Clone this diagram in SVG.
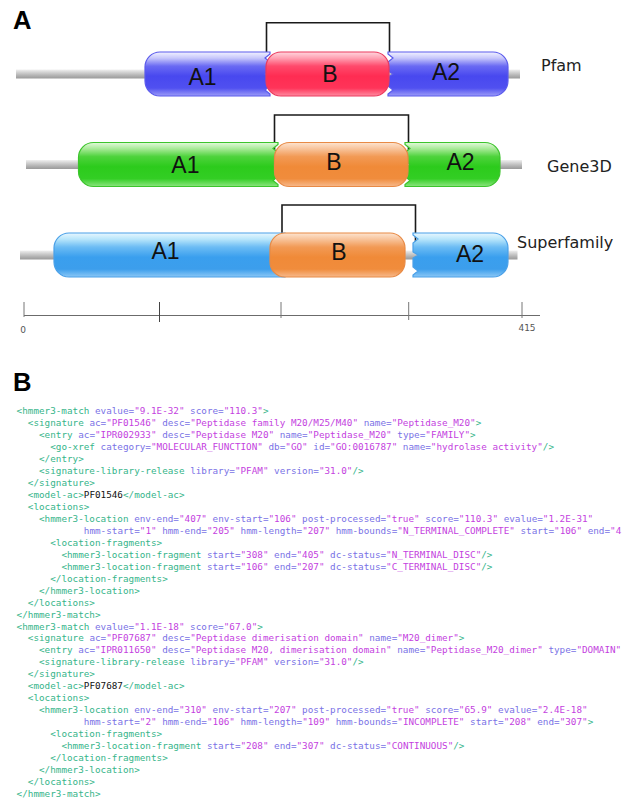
<svg xmlns="http://www.w3.org/2000/svg" width="622" height="799" viewBox="0 0 622 799">
<defs>
<linearGradient id="gBlue" x1="0" y1="0" x2="0" y2="1">
<stop offset="0" stop-color="#f2f2ff"/><stop offset="0.14" stop-color="#c6c6fb"/><stop offset="0.32" stop-color="#6a6af3"/><stop offset="0.55" stop-color="#4848ef"/><stop offset="0.82" stop-color="#5050f0"/><stop offset="1" stop-color="#9c9cf8"/>
</linearGradient>
<linearGradient id="gRed" x1="0" y1="0" x2="0" y2="1">
<stop offset="0" stop-color="#ffd6de"/><stop offset="0.14" stop-color="#ffa0b2"/><stop offset="0.32" stop-color="#ff4a6c"/><stop offset="0.55" stop-color="#ff2c52"/><stop offset="0.82" stop-color="#ff3459"/><stop offset="1" stop-color="#ff8aa0"/>
</linearGradient>
<linearGradient id="gGreen" x1="0" y1="0" x2="0" y2="1">
<stop offset="0" stop-color="#e4f9dc"/><stop offset="0.14" stop-color="#a8ea98"/><stop offset="0.32" stop-color="#4ed33c"/><stop offset="0.55" stop-color="#2ccb1c"/><stop offset="0.82" stop-color="#33ce24"/><stop offset="1" stop-color="#8ce47f"/>
</linearGradient>
<linearGradient id="gOrange" x1="0" y1="0" x2="0" y2="1">
<stop offset="0" stop-color="#fde4d0"/><stop offset="0.14" stop-color="#f8c49c"/><stop offset="0.32" stop-color="#f29a55"/><stop offset="0.55" stop-color="#f08a38"/><stop offset="0.82" stop-color="#f08c3c"/><stop offset="1" stop-color="#f7b98c"/>
</linearGradient>
<linearGradient id="gSky" x1="0" y1="0" x2="0" y2="1">
<stop offset="0" stop-color="#e8f7ff"/><stop offset="0.14" stop-color="#b8e6fb"/><stop offset="0.32" stop-color="#6cbcf4"/><stop offset="0.55" stop-color="#3a9fee"/><stop offset="0.82" stop-color="#3c9eec"/><stop offset="1" stop-color="#8cc8f6"/>
</linearGradient>
<linearGradient id="gGray" x1="0" y1="0" x2="0" y2="1">
<stop offset="0" stop-color="#f0f0f0"/><stop offset="0.35" stop-color="#cfcfcf"/><stop offset="0.7" stop-color="#b0b0b0"/><stop offset="1" stop-color="#9a9a9a"/>
</linearGradient>
</defs>
<style>
.panel{font-family:"Liberation Sans",Arial,sans-serif;font-weight:bold;font-size:25.6px;fill:#000}
.dl{font-family:"Liberation Sans",Arial,sans-serif;font-size:23px;fill:#111;text-anchor:middle}
.tl{font-family:"DejaVu Sans",sans-serif;font-size:16px;fill:#222}
.ax{font-family:"DejaVu Sans",sans-serif;font-size:9px;fill:#555}
.bar{fill:url(#gGray)}
.blue{fill:url(#gBlue);stroke:#5a5aec;stroke-width:1.2}
.red{fill:url(#gRed);stroke:#ec3a5e;stroke-width:1.2}
.green{fill:url(#gGreen);stroke:#3cc42c;stroke-width:1.2}
.orange{fill:url(#gOrange);stroke:#e88a45;stroke-width:1.2}
.sky{fill:url(#gSky);stroke:#4aa0e8;stroke-width:1.2}
.br{fill:none;stroke:#1a1a1a;stroke-width:1.6}
.code{font-family:"DejaVu Sans Mono",monospace;font-size:9.3px}
.t{fill:#36b58a}.a{fill:#7a72e6}.v{fill:#c43fe0}.k{fill:#111}
</style>

<text class="panel" x="13" y="29">A</text>
<text class="panel" x="13" y="391">B</text>

<g id="connectors">
<path class="br" d="M266.5,55 V22.7 H389.5 V55"/>
<path class="br" d="M274.5,152 V115 H408.5 V152"/>
<path class="br" d="M282,234 V205 H415.5 V245"/>
</g>

<g id="pfam" transform="translate(0,52)">
<rect class="bar" x="16" y="17.5" width="504" height="9"/>
<g id="pfam-A1"><path class="blue" d="M160,0 H270 V2 L265,6 L270,10 V19 L265,22 L270,25 V34 L265,38 L270,42 V44 H160 A15 15 0 0 1 145,29 V15 A15 15 0 0 1 160,0 Z"/><text class="dl" x="202.5" y="33.2">A1</text></g>
<g id="pfam-A2"><path class="blue" d="M388,0 H493 A15 15 0 0 1 508,15 V29 A15 15 0 0 1 493,44 H388 V42 L393,38 L388,34 V25 L393,22 L388,19 V10 L393,6 L388,2 Z"/><text class="dl" x="446" y="27.6">A2</text></g>
<g id="pfam-B"><rect class="red" x="266" y="0" width="123" height="44" rx="15"/><text class="dl" x="330" y="30">B</text></g>
<text class="tl" x="541" y="19">Pfam</text>
</g>

<g id="gene3d" transform="translate(0,142.5)">
<rect class="bar" x="26" y="17.5" width="496" height="9"/>
<g id="gene3d-A1"><path class="green" d="M93.5,0 H278 V2 L273,6 L278,10 V19 L273,22 L278,25 V34 L273,38 L278,42 V44 H93.5 A15 15 0 0 1 78.5,29 V15 A15 15 0 0 1 93.5,0 Z"/><text class="dl" x="185.4" y="30.5">A1</text></g>
<g id="gene3d-A2"><path class="green" d="M405,0 H485 A15 15 0 0 1 500,15 V29 A15 15 0 0 1 485,44 H405 V42 L410,38 L405,34 V25 L410,22 L405,19 V10 L410,6 L405,2 Z"/><text class="dl" x="460.5" y="27.2">A2</text></g>
<g id="gene3d-B"><rect class="orange" x="274.5" y="0" width="133.5" height="44" rx="15"/><text class="dl" x="334" y="27.2">B</text></g>
<text class="tl" x="547" y="29.2">Gene3D</text>
</g>

<g id="superfamily" transform="translate(0,233)">
<rect class="bar" x="20" y="17.5" width="497.5" height="9"/>
<g id="superfamily-A1"><path class="sky" d="M69,0 H285 V44 H69 A15 15 0 0 1 54,29 V15 A15 15 0 0 1 69,0 Z"/><text class="dl" x="165.5" y="26">A1</text></g>
<g id="superfamily-A2"><path class="sky" d="M413,0 H493 A15 15 0 0 1 508,15 V29 A15 15 0 0 1 493,44 H413 V42 L418,38 L413,34 V25 L418,22 L413,19 V10 L418,6 L413,2 Z"/><text class="dl" x="470" y="29">A2</text></g>
<g id="superfamily-B"><rect class="orange" x="270" y="0" width="135" height="44" rx="15"/><text class="dl" x="339" y="26.6">B</text></g>
<text class="tl" x="517" y="15.3">Superfamily</text>
</g>

<g id="axis">
<line x1="24" y1="315.5" x2="540" y2="315.5" stroke="#5a5a5a" stroke-width="0.9"/>
<g stroke="#777" stroke-width="1">
<line x1="24" y1="302" x2="24" y2="317"/>
<line x1="159.5" y1="302" x2="159.5" y2="322" stroke="#444"/>
<line x1="281" y1="302" x2="281" y2="318"/>
<line x1="408.7" y1="302" x2="408.7" y2="320"/>
<line x1="522" y1="302" x2="522" y2="318"/>
</g>
<text class="ax" x="23" y="332.5" text-anchor="middle">0</text>
<text class="ax" x="527" y="330.5" text-anchor="middle">415</text>
</g>

<g id="xml" class="code" xml:space="preserve">
<text x="16.6" y="414"><tspan class="t">&lt;hmmer3-match</tspan><tspan class="a"> evalue=</tspan><tspan class="v">"9.1E-32"</tspan><tspan class="a"> score=</tspan><tspan class="v">"110.3"</tspan><tspan class="t">&gt;</tspan></text>
<text x="27.8" y="426"><tspan class="t">&lt;signature</tspan><tspan class="a"> ac=</tspan><tspan class="v">"PF01546"</tspan><tspan class="a"> desc=</tspan><tspan class="v">"Peptidase family M20/M25/M40"</tspan><tspan class="a"> name=</tspan><tspan class="v">"Peptidase_M20"</tspan><tspan class="t">&gt;</tspan></text>
<text x="39" y="437.9"><tspan class="t">&lt;entry</tspan><tspan class="a"> ac=</tspan><tspan class="v">"IPR002933"</tspan><tspan class="a"> desc=</tspan><tspan class="v">"Peptidase M20"</tspan><tspan class="a"> name=</tspan><tspan class="v">"Peptidase_M20"</tspan><tspan class="a"> type=</tspan><tspan class="v">"FAMILY"</tspan><tspan class="t">&gt;</tspan></text>
<text x="50.2" y="449.9"><tspan class="t">&lt;go-xref</tspan><tspan class="a"> category=</tspan><tspan class="v">"MOLECULAR_FUNCTION"</tspan><tspan class="a"> db=</tspan><tspan class="v">"GO"</tspan><tspan class="a"> id=</tspan><tspan class="v">"GO:0016787"</tspan><tspan class="a"> name=</tspan><tspan class="v">"hydrolase activity"</tspan><tspan class="t">/&gt;</tspan></text>
<text x="39" y="461.9" class="t">&lt;/entry&gt;</text>
<text x="39" y="473.9"><tspan class="t">&lt;signature-library-release</tspan><tspan class="a"> library=</tspan><tspan class="v">"PFAM"</tspan><tspan class="a"> version=</tspan><tspan class="v">"31.0"</tspan><tspan class="t">/&gt;</tspan></text>
<text x="27.8" y="485.8" class="t">&lt;/signature&gt;</text>
<text x="27.8" y="497.8"><tspan class="t">&lt;model-ac&gt;</tspan><tspan class="k">PF01546</tspan><tspan class="t">&lt;/model-ac&gt;</tspan></text>
<text x="27.8" y="509.8" class="t">&lt;locations&gt;</text>
<text x="39" y="521.7"><tspan class="t">&lt;hmmer3-location</tspan><tspan class="a"> env-end=</tspan><tspan class="v">"407"</tspan><tspan class="a"> env-start=</tspan><tspan class="v">"106"</tspan><tspan class="a"> post-processed=</tspan><tspan class="v">"true"</tspan><tspan class="a"> score=</tspan><tspan class="v">"110.3"</tspan><tspan class="a"> evalue=</tspan><tspan class="v">"1.2E-31"</tspan></text>
<text x="83.8" y="533.7"><tspan class="a">hmm-start=</tspan><tspan class="v">"1"</tspan><tspan class="a"> hmm-end=</tspan><tspan class="v">"205"</tspan><tspan class="a"> hmm-length=</tspan><tspan class="v">"207"</tspan><tspan class="a"> hmm-bounds=</tspan><tspan class="v">"N_TERMINAL_COMPLETE"</tspan><tspan class="a"> start=</tspan><tspan class="v">"106"</tspan><tspan class="a"> end=</tspan><tspan class="v">"4</tspan></text>
<text x="50.2" y="545.7" class="t">&lt;location-fragments&gt;</text>
<text x="61.4" y="557.6"><tspan class="t">&lt;hmmer3-location-fragment</tspan><tspan class="a"> start=</tspan><tspan class="v">"308"</tspan><tspan class="a"> end=</tspan><tspan class="v">"405"</tspan><tspan class="a"> dc-status=</tspan><tspan class="v">"N_TERMINAL_DISC"</tspan><tspan class="t">/&gt;</tspan></text>
<text x="61.4" y="569.6"><tspan class="t">&lt;hmmer3-location-fragment</tspan><tspan class="a"> start=</tspan><tspan class="v">"106"</tspan><tspan class="a"> end=</tspan><tspan class="v">"207"</tspan><tspan class="a"> dc-status=</tspan><tspan class="v">"C_TERMINAL_DISC"</tspan><tspan class="t">/&gt;</tspan></text>
<text x="50.2" y="581.6" class="t">&lt;/location-fragments&gt;</text>
<text x="39" y="593.6" class="t">&lt;/hmmer3-location&gt;</text>
<text x="27.8" y="605.5" class="t">&lt;/locations&gt;</text>
<text x="16.6" y="617.5" class="t">&lt;/hmmer3-match&gt;</text>
<text x="16.6" y="629.5"><tspan class="t">&lt;hmmer3-match</tspan><tspan class="a"> evalue=</tspan><tspan class="v">"1.1E-18"</tspan><tspan class="a"> score=</tspan><tspan class="v">"67.0"</tspan><tspan class="t">&gt;</tspan></text>
<text x="27.8" y="641.4"><tspan class="t">&lt;signature</tspan><tspan class="a"> ac=</tspan><tspan class="v">"PF07687"</tspan><tspan class="a"> desc=</tspan><tspan class="v">"Peptidase dimerisation domain"</tspan><tspan class="a"> name=</tspan><tspan class="v">"M20_dimer"</tspan><tspan class="t">&gt;</tspan></text>
<text x="39" y="653.4"><tspan class="t">&lt;entry</tspan><tspan class="a"> ac=</tspan><tspan class="v">"IPR011650"</tspan><tspan class="a"> desc=</tspan><tspan class="v">"Peptidase M20, dimerisation domain"</tspan><tspan class="a"> name=</tspan><tspan class="v">"Peptidase_M20_dimer"</tspan><tspan class="a"> type=</tspan><tspan class="v">"DOMAIN"</tspan></text>
<text x="39" y="665.3"><tspan class="t">&lt;signature-library-release</tspan><tspan class="a"> library=</tspan><tspan class="v">"PFAM"</tspan><tspan class="a"> version=</tspan><tspan class="v">"31.0"</tspan><tspan class="t">/&gt;</tspan></text>
<text x="27.8" y="677.3" class="t">&lt;/signature&gt;</text>
<text x="27.8" y="689.3"><tspan class="t">&lt;model-ac&gt;</tspan><tspan class="k">PF07687</tspan><tspan class="t">&lt;/model-ac&gt;</tspan></text>
<text x="27.8" y="701.3" class="t">&lt;locations&gt;</text>
<text x="39" y="713.2"><tspan class="t">&lt;hmmer3-location</tspan><tspan class="a"> env-end=</tspan><tspan class="v">"310"</tspan><tspan class="a"> env-start=</tspan><tspan class="v">"207"</tspan><tspan class="a"> post-processed=</tspan><tspan class="v">"true"</tspan><tspan class="a"> score=</tspan><tspan class="v">"65.9"</tspan><tspan class="a"> evalue=</tspan><tspan class="v">"2.4E-18"</tspan></text>
<text x="83.8" y="725.2"><tspan class="a">hmm-start=</tspan><tspan class="v">"2"</tspan><tspan class="a"> hmm-end=</tspan><tspan class="v">"106"</tspan><tspan class="a"> hmm-length=</tspan><tspan class="v">"109"</tspan><tspan class="a"> hmm-bounds=</tspan><tspan class="v">"INCOMPLETE"</tspan><tspan class="a"> start=</tspan><tspan class="v">"208"</tspan><tspan class="a"> end=</tspan><tspan class="v">"307"</tspan><tspan class="t">&gt;</tspan></text>
<text x="50.2" y="737.2" class="t">&lt;location-fragments&gt;</text>
<text x="61.4" y="749.2"><tspan class="t">&lt;hmmer3-location-fragment</tspan><tspan class="a"> start=</tspan><tspan class="v">"208"</tspan><tspan class="a"> end=</tspan><tspan class="v">"307"</tspan><tspan class="a"> dc-status=</tspan><tspan class="v">"CONTINUOUS"</tspan><tspan class="t">/&gt;</tspan></text>
<text x="50.2" y="761.1" class="t">&lt;/location-fragments&gt;</text>
<text x="39" y="773.1" class="t">&lt;/hmmer3-location&gt;</text>
<text x="27.8" y="785.1" class="t">&lt;/locations&gt;</text>
<text x="16.6" y="797" class="t">&lt;/hmmer3-match&gt;</text>
</g>
</svg>
